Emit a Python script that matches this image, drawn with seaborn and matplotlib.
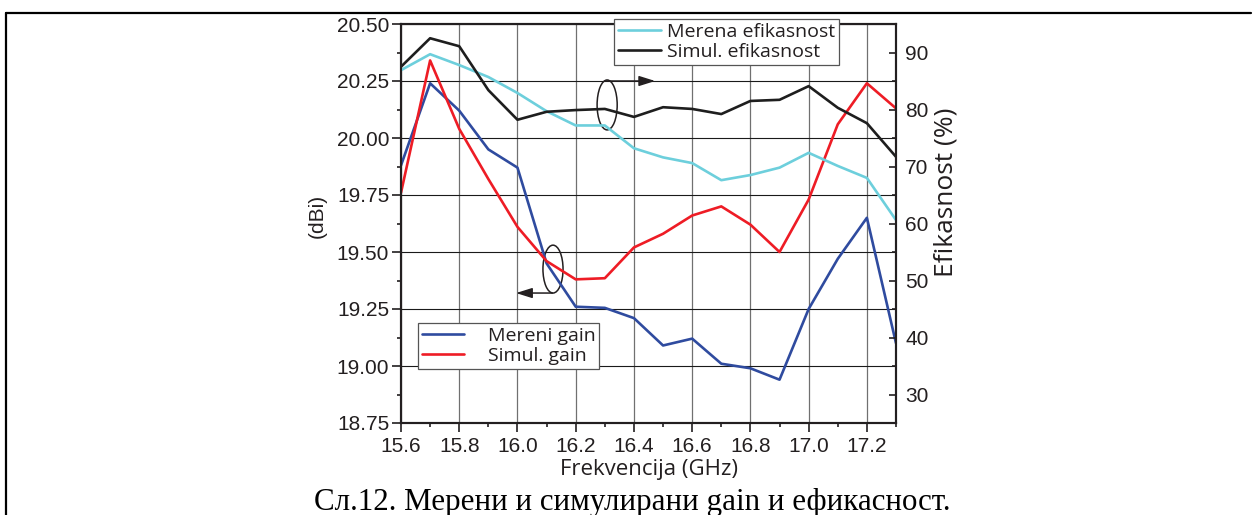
import numpy as np
import pandas as pd
import matplotlib
matplotlib.use("Agg")
import matplotlib.pyplot as plt
import seaborn as sns
from matplotlib.patches import Ellipse
from matplotlib.lines import Line2D
from matplotlib.ticker import FixedLocator, FormatStrFormatter

# Frequency points (GHz)
freq = [15.6, 15.7, 15.8, 15.9, 16.0, 16.1, 16.2, 16.3, 16.4,
        16.5, 16.6, 16.7, 16.8, 16.9, 17.0, 17.1, 17.2, 17.3]

# Gain (dBi), left axis
mereni_gain = [19.88, 20.24, 20.12, 19.95, 19.87, 19.45, 19.26, 19.255, 19.21,
               19.09, 19.12, 19.01, 18.99, 18.94, 19.25, 19.47, 19.65, 19.10]
simul_gain = [19.76, 20.34, 20.04, 19.82, 19.61, 19.46, 19.38, 19.385, 19.52,
              19.58, 19.66, 19.70, 19.62, 19.50, 19.73, 20.06, 20.24, 20.13]

# Efficiency (%), right axis
merena_eff = [86.9, 89.7, 87.8, 85.7, 82.9, 79.7, 77.2, 77.2, 73.2,
              71.6, 70.6, 67.6, 68.5, 69.8, 72.4, 70.1, 68.0, 60.6]
simul_eff = [87.5, 92.5, 91.1, 83.4, 78.2, 79.6, 79.9, 80.1, 78.7,
             80.4, 80.1, 79.2, 81.5, 81.7, 84.1, 80.3, 77.6, 71.7]

labels_gain = ["Mereni gain", "Simul. gain"]
labels_eff = ["Merena efikasnost", "Simul. efikasnost"]

gain_df = pd.DataFrame({"freq": freq, labels_gain[0]: mereni_gain, labels_gain[1]: simul_gain})
eff_df = pd.DataFrame({"freq": freq, labels_eff[0]: merena_eff, labels_eff[1]: simul_eff})

sns.set_style("ticks")
plt.rcParams["font.family"] = ["Liberation Sans", "DejaVu Sans"]
TXT = "#231f20"
plt.rcParams["text.color"] = TXT
plt.rcParams["axes.labelcolor"] = TXT
plt.rcParams["xtick.color"] = TXT
plt.rcParams["ytick.color"] = TXT

W, H = 1253, 515
fig = plt.figure(figsize=(W / 100, H / 100), dpi=100)
fig.patch.set_facecolor("white")

ax_l, ax_r, ax_t, ax_b = 401, 896, 24, 423
ax = fig.add_axes([ax_l / W, 1 - ax_b / H, (ax_r - ax_l) / W, (ax_b - ax_t) / H])
ax2 = ax.twinx()

LW = 1.9
c_blue, c_red, c_cyan, c_black = "#2f4b9f", "#ee1c25", "#6dcfdc", "#1e1e1e"

sns.lineplot(data=gain_df, x="freq", y=labels_gain[0], ax=ax, color=c_blue, lw=LW, label=labels_gain[0], legend=False)
sns.lineplot(data=gain_df, x="freq", y=labels_gain[1], ax=ax, color=c_red, lw=LW, label=labels_gain[1], legend=False)
sns.lineplot(data=eff_df, x="freq", y=labels_eff[0], ax=ax2, color=c_cyan, lw=LW, label=labels_eff[0], legend=False)
sns.lineplot(data=eff_df, x="freq", y=labels_eff[1], ax=ax2, color=c_black, lw=LW, label=labels_eff[1], legend=False)

# Axis limits and ticks
ax.set_xlim(15.6, 17.3)
ax.set_ylim(18.75, 20.50)
ax2.set_ylim(25, 95)

ax.xaxis.set_major_locator(FixedLocator(np.round(np.arange(15.6, 17.21, 0.2), 1)))
ax.xaxis.set_minor_locator(FixedLocator(np.round(np.arange(15.7, 17.31, 0.2), 1)))
ax.xaxis.set_major_formatter(FormatStrFormatter("%.1f"))
ax.yaxis.set_major_locator(FixedLocator(np.arange(18.75, 20.51, 0.25)))
ax.yaxis.set_minor_locator(FixedLocator(np.arange(18.875, 20.5, 0.25)))
ax.yaxis.set_major_formatter(FormatStrFormatter("%.2f"))
ax2.yaxis.set_major_locator(FixedLocator(np.arange(30, 91, 10)))
ax2.yaxis.set_minor_locator(FixedLocator(np.arange(25, 96, 10)))

ax.tick_params(axis="both", which="major", direction="out", length=6.5, width=1.2, labelsize=15, pad=2)
ax.tick_params(axis="x", which="major", pad=3.5)
ax.tick_params(axis="both", which="minor", direction="out", length=3, width=1.2)
ax.tick_params(axis="y", which="both", right=False)
ax2.tick_params(axis="y", which="major", direction="in", length=5, width=1.2, labelsize=15, pad=6.5)
ax2.tick_params(axis="y", which="minor", direction="in", length=3, width=1.2)

for a in (ax, ax2):
    for s in a.spines.values():
        s.set_visible(True)
        s.set_linewidth(1.5)
        s.set_color(TXT)

# Grid at major ticks
ax.set_axisbelow(True)
ax.grid(axis="y", which="major", color="#1a1a1a", lw=0.8)
ax.grid(axis="x", which="major", color="#707070", lw=0.9)

# Axis titles
ax.set_xlabel("Frekvencija (GHz)", family=["Open Sans", "DejaVu Sans"], fontsize=16, labelpad=2)
ax.set_ylabel("(dBi)", fontsize=15)
ax.yaxis.set_label_coords(-0.1495, 0.52)
ax2.set_ylabel("Efikasnost (%)", family=["Open Sans", "DejaVu Sans"], fontsize=19)
ax2.yaxis.set_label_coords(1.075, 0.579)

# Legends
h1, l1 = ax.get_legend_handles_labels()
h2, l2 = ax2.get_legend_handles_labels()
leg_font = {"family": ["Open Sans", "DejaVu Sans"], "size": 14}
leg_eff = ax2.legend(h2, l2, loc="upper left", bbox_to_anchor=(0.430, 1.0125), borderaxespad=0,
                     prop=leg_font, frameon=True, fancybox=False, framealpha=1, edgecolor="#555555",
                     handlelength=2.2, handletextpad=0.35, borderpad=0.2, labelspacing=0.1)
leg_eff.get_frame().set_linewidth(0.9)
ax2.add_artist(leg_eff)
leg_gain = ax2.legend(h1, l1, loc="upper left", bbox_to_anchor=(0.034, 0.2506), borderaxespad=0,
                      prop=leg_font, frameon=True, fancybox=False, framealpha=1, edgecolor="#555555",
                      handlelength=2.2, handletextpad=1.2, borderpad=0.2, labelspacing=0.1)
leg_gain.get_frame().set_linewidth(0.9)

# Series markers: ellipses with arrows pointing to the relevant axis
arrow_kw = dict(arrowstyle="-|>,head_length=0.7,head_width=0.22", color=TXT, lw=1.1,
                mutation_scale=14, shrinkA=0, shrinkB=0)
ax.add_patch(Ellipse((16.308, 20.145), width=0.069, height=0.219, fill=False, ec=TXT, lw=1.1))
ax.annotate("", xy=(16.473, 20.25), xytext=(16.30, 20.25), arrowprops=arrow_kw)
ax.add_patch(Ellipse((16.122, 19.425), width=0.069, height=0.21, fill=False, ec=TXT, lw=1.1))
ax.annotate("", xy=(15.995, 19.32), xytext=(16.12, 19.32), arrowprops=arrow_kw)

# Caption
fig.text(632 / W, 1 - 510 / H, "Сл.12. Мерени и симулирани gain и ефикасност.",
         family=["Liberation Serif", "DejaVu Serif"], fontsize=22.3, ha="center", va="baseline", color="black")

# Frame lines around the figure panel
fig.add_artist(Line2D([6 / W, 6 / W], [0, 1 - 13 / H], transform=fig.transFigure, color="black", lw=1.6))
fig.add_artist(Line2D([5.5 / W, 1251 / W], [1 - 13 / H, 1 - 13 / H], transform=fig.transFigure, color="black", lw=1.6))

fig.savefig("out.png", dpi=100, facecolor="white")
